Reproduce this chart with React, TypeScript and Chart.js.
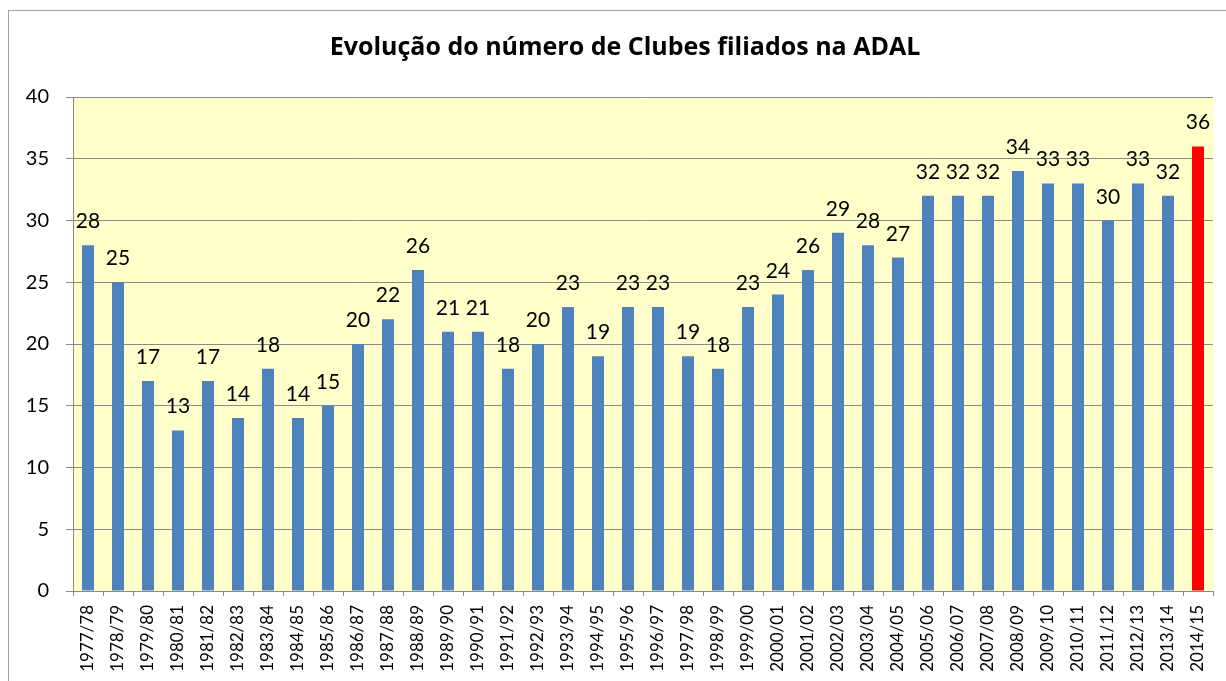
import React, { useEffect, useRef } from "react";
import { Chart, registerables } from "chart.js";

Chart.register(...registerables);

const seasons = [
  "1977/78", "1978/79", "1979/80", "1980/81", "1981/82", "1982/83", "1983/84", "1984/85",
  "1985/86", "1986/87", "1987/88", "1988/89", "1989/90", "1990/91", "1991/92", "1992/93",
  "1993/94", "1994/95", "1995/96", "1996/97", "1997/98", "1998/99", "1999/00", "2000/01",
  "2001/02", "2002/03", "2003/04", "2004/05", "2005/06", "2006/07", "2007/08", "2008/09",
  "2009/10", "2010/11", "2011/12", "2012/13", "2013/14", "2014/15",
];

const clubs = [
  28, 25, 17, 13, 17, 14, 18, 14,
  15, 20, 22, 26, 21, 21, 18, 20,
  23, 19, 23, 23, 19, 18, 23, 24,
  26, 29, 28, 27, 32, 32, 32, 34,
  33, 33, 30, 33, 32, 36,
];

const highlightSeason = "2014/15";
const yMin = 0;
const yMax = 40;
const yStep = 5;

const titleText = "Evolução do número de Clubes filiados na ADAL";

const FONT = "Lato, 'Open Sans', 'DejaVu Sans', sans-serif";
const TITLE_FONT = "'Open Sans', Lato, 'DejaVu Sans', sans-serif";
const BAR_BLUE = "#4F81BD";
const BAR_RED = "#FF0000";
const PLOT_BG = "#FFFFCC";
const GRID = "#8A8A8A";

export default function App() {
  const ref = useRef<HTMLCanvasElement>(null);

  useEffect(() => {
    if (!ref.current) return;

    const plotBg = {
      id: "plotBg",
      beforeDraw(chart: any) {
        const { ctx, chartArea: a } = chart;
        ctx.save();
        ctx.fillStyle = PLOT_BG;
        ctx.fillRect(a.left, a.top, a.right - a.left, a.bottom - a.top);
        ctx.restore();
      },
    };

    const valueLabels = {
      id: "valueLabels",
      afterDatasetsDraw(chart: any) {
        const { ctx } = chart;
        const meta = chart.getDatasetMeta(0);
        ctx.save();
        ctx.font = `21px ${FONT}`;
        ctx.fillStyle = "#000";
        ctx.textAlign = "center";
        ctx.textBaseline = "alphabetic";
        meta.data.forEach((el: any, i: number) => {
          ctx.fillText(String(clubs[i]), el.x, el.y - 17);
        });
        ctx.restore();
      },
    };

    const chart = new Chart(ref.current, {
      type: "bar",
      data: {
        labels: seasons,
        datasets: [
          {
            data: clubs,
            yAxisID: "y",
            backgroundColor: seasons.map((s) => (s === highlightSeason ? BAR_RED : BAR_BLUE)),
            barPercentage: 0.4,
            categoryPercentage: 1,
            borderWidth: 0,
          },
        ],
      },
      options: {
        responsive: false,
        animation: false,
        devicePixelRatio: 1,
        layout: { padding: 0 },
        plugins: {
          legend: { display: false },
          tooltip: { enabled: false },
          title: {
            display: true,
            text: titleText,
            color: "#000",
            font: { family: TITLE_FONT, size: 25, weight: "bold" },
            padding: { top: 22, bottom: 34 },
          },
        },
        scales: {
          x: {
            grid: {
              display: true,
              offset: true,
              drawOnChartArea: false,
              drawTicks: true,
              tickLength: 5,
              color: GRID,
            },
            border: { display: true, color: GRID, width: 1 },
            ticks: {
              color: "#000",
              font: { family: FONT, size: 17 },
              minRotation: 90,
              maxRotation: 90,
              autoSkip: false,
              padding: 9,
            },
            afterFit(scale: any) {
              scale.height = 90;
            },
          },
          y: {
            min: yMin,
            max: yMax,
            grid: {
              color: GRID,
              drawTicks: true,
              tickLength: 7,
            },
            border: { display: true, color: GRID, width: 1 },
            ticks: {
              stepSize: yStep,
              color: "#000",
              font: { family: FONT, size: 20 },
              padding: 17,
            },
            afterFit(scale: any) {
              scale.width = 64;
            },
          },
          spacer: {
            type: "linear",
            position: "right",
            display: true,
            grid: { display: false, drawOnChartArea: false, drawTicks: false },
            border: { display: false },
            ticks: { display: false },
            afterFit(scale: any) {
              scale.width = 28;
            },
          },
        },
      },
      plugins: [plotBg, valueLabels],
    });

    return () => chart.destroy();
  }, []);

  return (
    <div
      style={{
        position: "absolute",
        left: 8,
        top: 10,
        width: 1218,
        height: 671,
        boxSizing: "border-box",
        borderLeft: "1px solid #A0A0A0",
        borderTop: "1px solid #A0A0A0",
        overflow: "hidden",
        background: "#fff",
      }}
    >
      <canvas ref={ref} width={1232} height={670} style={{ display: "block" }} />
    </div>
  );
}
